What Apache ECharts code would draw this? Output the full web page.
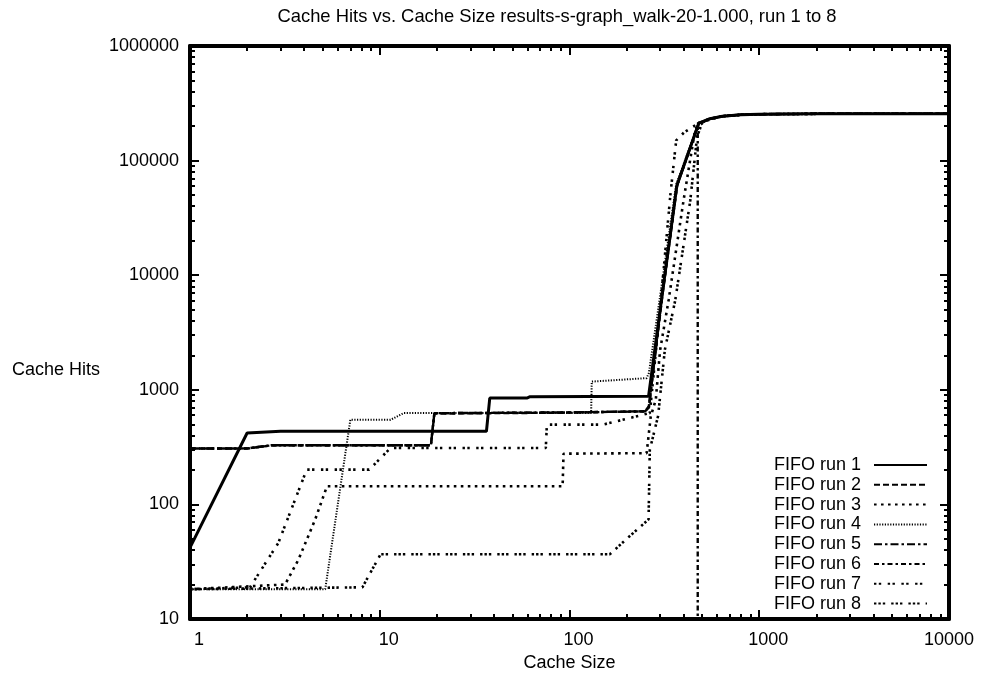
<!DOCTYPE html>
<html>
<head>
<meta charset="utf-8">
<script src="https://cdn.jsdelivr.net/npm/echarts@6/dist/echarts.min.js"></script>
<style>
    html, body { margin: 0; padding: 0; background: #fff; }
    #chart { width: 985px; height: 679px; }
</style>
</head>
<body>
<div id="chart"></div>
<script>
// 数据: [cache size, cache hits]
const run1 = [[1,42],[2,420],[3,434],[36.5,434],[38,847],[60,850],[62,870],[261,880],[368,60600],[480,212000],[550,232000],[640,244000],[800,251000],[1000,254000],[2000,256000],[10000,256000]]
const run2 = [[1,307],[2,307],[2.7,328],[18.6,328],[19.4,620],[100,632],[250,650],[262,720],[310,7000],[370,62000],[480,212000],[550,232000],[640,244000],[800,251000],[1000,254000],[2000,256000],[10000,256000]]
const run3 = [[1,18.2],[3.17,20],[3.73,33],[4.57,74],[5.27,144],[92,144],[93,277],[255,280],[268,586],[285,818],[300,2200],[333,6070],[399,44900],[460,190000],[520,222000],[640,244000],[800,251000],[1000,254000],[2000,256000],[10000,256000]]
const run4 = [[1,18.2],[5.16,18.2],[7,548],[11.4,548],[13.4,627],[130,627],[131,1180],[255,1264],[262,1400],[300,6500],[365,62000],[480,213000],[550,232000],[640,244000],[800,251000],[1000,254000],[2000,256000],[10000,256000]]
const run5 = [[1,307],[2,308],[2.7,328],[18.6,328],[19.4,625],[100,635],[250,648],[262,700],[305,6000],[368,60000],[480,212000],[550,232000],[640,244000],[800,251000],[1000,254000],[2000,256000],[10000,256000]]
const run6 = [[1,307],[2,308],[2.7,328],[18.6,328],[19.4,625],[100,635],[250,648],[262,700],[305,6000],[368,60000],[474,200000],[474,1],[10000,1]]
const run7 = [[1,18.2],[2.07,18.9],[2.92,46],[4.12,201],[8.8,201],[11.4,311],[75,311],[76,497],[150,497],[208,567],[265,627],[300,5000],[340,50000],[365,150000],[400,175000],[480,213000],[550,232000],[640,244000],[800,251000],[1000,254000],[2000,256000],[10000,256000]]
const run8 = [[1,18.2],[8.1,18.9],[10.1,36.7],[163,36.7],[208,53],[261,74],[265,300],[293,590],[318,2230],[361,6070],[433,44900],[470,160000],[500,215000],[550,232000],[640,244000],[800,251000],[1000,254000],[2000,256000],[10000,256000]]

const runNames = ['FIFO run 1','FIFO run 2','FIFO run 3','FIFO run 4','FIFO run 5','FIFO run 6','FIFO run 7','FIFO run 8']
const runData = [run1, run2, run3, run4, run5, run6, run7, run8]

// 刻度
const xMajor = [1, 10, 100, 1000, 10000]
const yMajor = [10, 100, 1000, 10000, 100000, 1000000]
const minorMult = [2, 3, 4, 5, 6, 7, 8, 9]
const xDecades = [1, 10, 100, 1000]
const yDecades = [10, 100, 1000, 10000, 100000]

const titleText = 'Cache Hits vs. Cache Size results-s-graph_walk-20-1.000, run 1 to 8'
const FONT = '"Liberation Sans", Arial, sans-serif'

// 线型
const lineTypes = [
    {width: 3, type: 'solid'},
    {width: 2.4, type: [6, 3]},
    {width: 2.6, type: [2.6, 4.4]},
    {width: 2, type: [1.2, 1.5]},
    {width: 2.4, type: [8, 3, 2.5, 3]},
    {width: 2.4, type: [5, 3, 2.5, 3]},
    {width: 2.6, type: [2.4, 2.4, 2.4, 6.5]},
    {width: 2.6, type: [2.4, 2, 2.4, 2, 2.4, 6]}
]

let minorOf = function(decades){
    let arr = []
    decades.forEach(d => minorMult.forEach(m => arr.push(Math.log10(d * m))))
    return arr
}

let chart = echarts.init(document.getElementById('chart'))

let logAxis = function(pos, min, max){
    return {
        type: 'log',
        logBase: 10,
        position: pos,
        min: min,
        max: max,
        axisLine: {show: true, lineStyle: {color: '#000', width: 4}},
        axisTick: {show: true, inside: true, length: 9, lineStyle: {color: '#000', width: 2}},
        splitLine: {show: false},
        axisLabel: {show: false}
    }
}
let minorAxis = function(pos, min, max, ticks){
    return {
        type: 'value',
        position: pos,
        min: min,
        max: max,
        axisLine: {show: false},
        axisTick: {show: true, inside: true, length: 5, customValues: ticks, lineStyle: {color: '#000', width: 2}},
        splitLine: {show: false},
        axisLabel: {show: false}
    }
}

let xMain = logAxis('bottom', xMajor[0], xMajor[xMajor.length - 1])
xMain.axisLabel = {
    show: true,
    color: '#000',
    fontSize: 18,
    fontFamily: FONT,
    margin: 12,
    formatter: v => v < 10000 ? '{o|' + v + '}' : '{e|' + v + '}',
    rich: {
        o: {fontSize: 18, fontFamily: FONT, color: '#000', padding: [0, 0, 0, 18]},
        e: {fontSize: 18, fontFamily: FONT, color: '#000', padding: [0, 0, 0, 0]}
    }
}
xMain.name = 'Cache Size'
xMain.nameLocation = 'middle'
xMain.nameGap = 32
xMain.nameTextStyle = {color: '#000', fontSize: 18, fontFamily: FONT}

let yMain = logAxis('left', yMajor[0], yMajor[yMajor.length - 1])
yMain.axisLabel = {show: true, color: '#000', fontSize: 18, fontFamily: FONT, margin: 11, formatter: v => String(v)}

let series = runData.map((d, i) => ({
    name: runNames[i],
    type: 'line',
    data: d,
    symbol: 'none',
    xAxisIndex: 0,
    yAxisIndex: 0,
    lineStyle: {color: '#000', width: lineTypes[i].width, type: lineTypes[i].type, cap: 'butt'},
    itemStyle: {color: '#000'},
    z: 10 - i
}))

chart.setOption({
    animation: false,
    backgroundColor: '#fff',
    grid: {left: 190, right: 36, top: 46, bottom: 60, containLabel: false},
    xAxis: [
        xMain,
        minorAxis('bottom', 0, 4, minorOf(xDecades)),
        logAxis('top', xMajor[0], xMajor[xMajor.length - 1]),
        minorAxis('top', 0, 4, minorOf(xDecades))
    ],
    yAxis: [
        yMain,
        minorAxis('left', 1, 6, minorOf(yDecades)),
        logAxis('right', yMajor[0], yMajor[yMajor.length - 1]),
        minorAxis('right', 1, 6, minorOf(yDecades))
    ],
    legend: {
        data: runNames,
        orient: 'vertical',
        align: 'right',
        right: 57,
        top: 456,
        itemWidth: 53,
        itemHeight: 14,
        itemGap: 1.8,
        padding: 0,
        itemStyle: {opacity: 0},
        textStyle: {color: '#000', fontSize: 18, lineHeight: 18, fontFamily: FONT, padding: [0, 8, 0, 0]}
    },
    graphic: [
        {type: 'text', x: 557, y: 8, style: {text: titleText, align: 'center', font: '18.4px ' + FONT, fill: '#000'}},
        {type: 'text', x: 12, y: 361, style: {text: 'Cache Hits', font: '18px ' + FONT, fill: '#000'}}
    ],
    series: series
})
</script>
</body>
</html>
